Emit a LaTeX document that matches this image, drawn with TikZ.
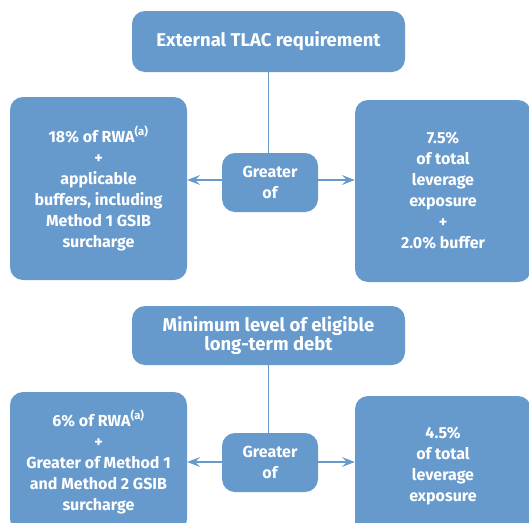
\documentclass[tikz,border=0pt]{standalone}
\usepackage{fontspec}
\setmainfont{Fira Sans}
\usetikzlibrary{arrows.meta}
\definecolor{jpblue}{RGB}{102,153,204}

\begin{document}
\begin{tikzpicture}
        [x=1pt,y=-1pt,every node/.style={fill=jpblue,text=white,rounded corners=13pt,align=center,inner sep=0,font=\bfseries\fontsize{16}{21}\selectfont}, title/.style={font=\bfseries\fontsize{18.5}{19.5}\selectfont}, link/.style={draw=jpblue,line width=1.5pt}, arrow/.style={link,-{Stealth[length=13pt,width=10pt,inset=5pt]}}]

        \useasboundingbox (0,0) rectangle (529,522);
        \clip (0,0) rectangle (529,522);

        % external TLAC
        \node[title,minimum width=273pt,minimum height=61pt] (tlac) at (268.5, 41.5) {External TLAC requirement};
        \node[minimum width=177pt,minimum height=183pt] (rwa) at (98.5, 188.5) {18\% of RWA\textsuperscript{(a)}\\+\\applicable\\buffers, including\\Method 1 GSIB\\surcharge};
        \node[minimum width=176pt,minimum height=182pt] (lev) at (443, 191) {7.5\%\\of total\\leverage\\exposure\\+\\2.0\% buffer};
        \node[minimum width=96pt,minimum height=59pt] (greater) at (270, 182.5) {Greater\\of};

        % long-term debt
        \node[title,minimum width=273pt,minimum height=59pt] (ltd) at (268.5, 335.5) {Minimum level of eligible\\long-term debt};
        \node[minimum width=177pt,minimum height=140pt] (rwa2) at (98.5, 462) {6\% of RWA\textsuperscript{(a)}\\+\\Greater of Method 1\\and Method 2 GSIB\\surcharge};
        \node[minimum width=176pt,minimum height=140pt] (lev2) at (443, 466) {4.5\%\\of total\\leverage\\exposure};
        \node[minimum width=96pt,minimum height=59pt] (greater2) at (270, 462.5) {Greater\\of};

        \draw[link] (tlac.south) -- (tlac.south |- greater.north);
        \draw[arrow] (greater.west |- 0,180) -- (rwa.east |- 0,180);
        \draw[arrow] (greater.east |- 0,180) -- (lev.west |- 0,180);
        \draw[link] (ltd.south) -- (ltd.south |- greater2.north);
        \draw[arrow] (greater2.west |- 0,462) -- (rwa2.east |- 0,462);
        \draw[arrow] (greater2.east |- 0,462) -- (lev2.west |- 0,462);
      \end{tikzpicture}
\end{document}
